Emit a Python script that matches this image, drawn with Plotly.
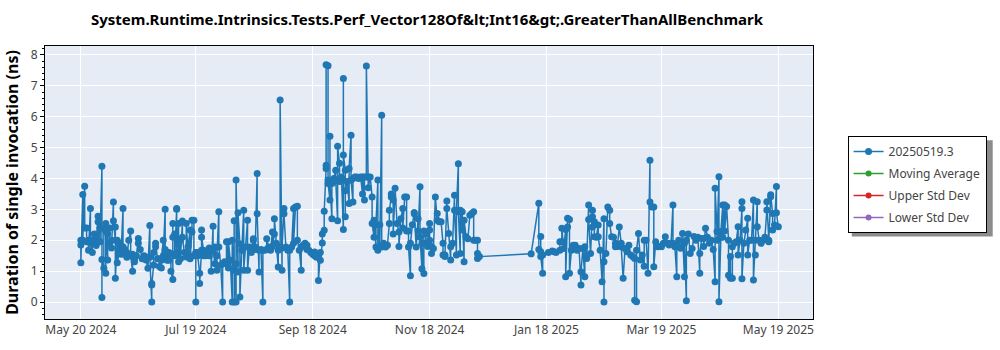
import pandas as pd
import plotly.graph_objects as go

start_date = "2024-05-20"

# day offsets of each benchmark run (relative to start_date) and measured durations (ns)
run_days = [
    0,0,0,1,1,2,2,3,3,4,4,
    5,5,6,6,7,7,8,8,9,9,9,
    10,10,11,11,11,12,12,13,13,13,14,14,
    15,15,16,16,17,17,18,18,18,19,19,
    20,20,21,21,22,22,23,23,24,24,
    25,26,26,27,27,28,28,29,
    30,30,31,32,33,33,34,34,
    35,36,36,37,37,37,38,38,39,39,
    40,41,41,42,42,43,43,44,44,
    45,45,46,46,47,47,48,48,48,49,49,
    50,50,50,51,51,52,52,53,53,54,
    55,55,56,56,57,57,58,58,59,59,
    60,60,60,61,61,62,62,63,63,63,64,64,
    65,66,67,67,68,68,69,69,
    70,70,71,71,72,72,73,74,74,
    75,76,76,77,77,78,79,79,
    80,80,80,81,81,81,82,82,83,83,84,
    85,85,86,87,87,88,89,
    90,90,91,91,92,92,93,93,94,
    95,95,96,97,97,98,99,
    100,100,101,101,102,103,103,104,104,
    105,105,106,106,107,108,109,109,
    110,111,111,112,113,113,114,
    115,115,116,117,118,118,119,
    120,121,122,122,123,124,124,
    125,125,126,126,127,127,128,128,128,129,129,129,
    130,130,130,131,131,132,132,133,133,134,134,
    135,135,136,136,137,137,137,138,138,138,139,
    140,140,141,141,142,142,143,144,
    145,146,147,147,148,148,149,149,
    150,150,151,152,152,153,153,154,154,
    155,155,156,156,157,157,158,159,
    160,161,161,162,162,163,163,164,
    165,166,166,167,168,168,169,
    170,170,171,171,172,172,173,174,174,
    175,176,176,177,177,178,178,179,179,
    180,180,181,182,182,182,183,183,184,
    185,186,186,187,188,189,189,
    190,190,191,191,192,193,193,194,
    195,195,196,196,197,197,198,198,199,199,
    200,200,201,202,203,204,
    205,205,206,207,207,207,208,235,
    239,239,240,240,240,241,241,244,
    246,247,248,250,250,251,251,252,
    253,253,254,254,255,255,256,257,
    258,259,260,261,261,262,
    263,263,264,265,265,266,267,267,267,
    268,268,269,270,270,271,272,
    273,273,273,274,275,276,276,277,
    278,279,279,280,281,282,282,
    283,284,285,286,287,
    288,289,289,290,290,291,292,
    293,294,294,295,296,297,297,
    298,299,299,300,301,302,
    303,304,305,306,307,
    308,309,309,310,311,311,312,
    313,314,315,315,316,316,317,
    318,319,320,321,322,
    323,323,324,325,325,326,327,
    328,329,330,331,331,332,332,
    333,333,334,334,335,335,336,336,337,
    338,338,339,339,340,340,341,342,
    343,343,344,345,345,345,346,347,
    348,348,349,350,351,351,352,352,
    353,353,354,355,356,357,
    358,358,359,359,360,360,361,361,362,363,363,364,
]

durations = [
    1.85,2.0,1.27,3.48,2.0,3.75,2.4,2.4,1.95,2.0,1.68,
    3.03,1.9,1.6,2.0,2.0,2.2,1.83,1.95,2.78,2.6,2.0,
    2.4,1.95,4.4,0.15,1.38,1.09,2.38,2.54,0.93,2.3,1.36,2.2,
    2.4,1.9,2.0,1.75,3.24,2.63,2.0,2.43,0.77,2.0,1.27,
    1.6,1.9,1.79,1.55,3.03,1.79,1.55,1.7,1.6,1.45,
    2.0,2.3,1.5,1.0,1.55,1.4,1.3,1.5,
    2.06,1.9,1.7,1.4,1.46,1.5,1.46,1.36,
    1.09,2.48,1.45,0.0,0.6,0.55,1.2,1.6,1.79,1.9,
    1.4,1.4,1.15,1.1,1.35,2.0,1.5,3.0,1.7,
    1.46,1.35,1.35,1.6,1.57,1.0,0.73,2.54,2.1,2.2,1.5,
    3.0,3.03,1.6,2.54,1.3,2.0,1.4,2.62,2.1,1.6,
    1.46,2.54,1.57,1.8,2.33,1.4,2.27,2.65,2.65,1.5,
    1.57,0.0,1.6,1.6,1.5,0.93,0.6,1.68,2.33,2.1,1.68,1.5,
    1.5,1.6,1.75,1.5,1.68,1.0,2.45,1.68,
    1.24,1.78,1.03,1.5,2.92,1.78,1.2,0.0,1.24,
    1.3,1.24,1.95,1.1,1.95,1.35,0.0,2.0,
    1.03,2.63,0.0,1.24,0.0,3.95,0.97,2.89,1.89,0.16,1.68,
    2.97,1.03,1.78,2.65,1.03,1.78,1.6,
    2.0,2.05,1.78,1.7,4.16,2.86,0.97,1.68,1.7,
    0.0,1.68,1.68,1.7,2.05,1.78,1.68,
    2.27,1.8,2.2,2.7,1.9,1.13,1.68,1.78,6.54,
    1.03,1.75,3.03,2.86,1.78,1.68,0.0,1.68,
    1.78,3.03,1.9,3.08,3.1,2.0,1.68,
    1.03,1.78,1.84,1.9,1.84,1.7,1.68,
    1.6,1.55,1.62,1.5,1.45,1.51,0.7,
    1.6,1.35,1.91,2.2,2.32,2.94,4.32,4.43,7.68,7.65,3.95,3.84,
    3.3,5.37,3.85,2.7,3.84,3.9,4.0,4.27,3.95,2.63,5.04,
    4.49,3.9,4.0,4.05,2.35,7.24,4.76,4.27,2.76,3.6,3.9,
    3.19,4.32,5.4,3.95,3.24,4.0,4.05,4.05,
    4.0,4.05,3.5,4.05,3.3,4.05,4.05,7.64,
    4.05,3.7,4.05,3.4,2.54,2.1,2.65,1.78,2.5,
    3.95,1.68,2.5,1.8,6.05,1.78,1.9,1.78,
    1.84,2.54,2.97,3.4,3.5,3.3,2.2,3.68,
    2.54,2.27,1.8,2.7,3.03,2.4,3.4,
    3.4,2.3,2.3,1.78,0.85,1.9,2.5,2.86,2.9,
    1.78,2.7,2.3,3.73,2.1,1.08,1.9,0.92,2.3,
    2.2,1.9,1.8,2.54,2.33,2.0,1.57,1.8,1.73,
    3.4,2.65,2.87,2.6,2.6,1.9,1.52,
    1.52,1.47,3.27,3.03,2.22,1.36,1.79,1.9,
    3.46,2.97,1.52,2.97,4.48,2.92,1.57,2.97,2.33,2.92,
    1.3,2.65,2.11,2.05,2.81,2.87,
    2.92,2.0,2.0,2.0,1.57,1.41,1.47,1.56,
    3.2,1.7,1.63,2.12,1.47,0.93,1.52,1.6,
    1.65,1.63,1.6,1.68,1.95,1.95,2.39,1.73,
    2.35,0.82,2.43,2.71,2.67,0.93,1.68,1.84,
    1.84,1.68,1.73,0.55,0.98,1.73,
    0.82,1.79,1.41,3.14,2.67,1.57,2.97,2.76,2.43,
    2.6,2.11,2.1,2.49,2.11,1.68,0.66,
    2.7,0.0,1.3,1.57,3.08,2.97,2.54,2.11,
    2.1,1.9,1.79,1.8,2.43,1.9,1.79,
    0.77,1.73,1.63,1.84,1.52,
    1.47,1.41,0.06,0.01,1.68,2.22,1.36,
    1.52,1.16,2.0,2.0,0.93,4.59,3.24,
    3.08,3.08,1.14,1.95,1.79,1.8,
    1.79,1.9,2.11,1.9,1.85,
    1.9,3.14,1.9,1.79,0.82,1.8,2.0,
    1.74,2.22,0.82,1.9,0.04,2.0,2.2,
    1.57,1.73,2.12,2.0,2.1,
    0.93,1.57,2.06,2.06,1.8,2.39,2.1,
    1.9,2.0,1.7,0.66,3.68,2.28,2.0,
    4.06,0.01,2.1,2.28,3.14,2.1,3.14,2.3,3.09,
    2.0,0.87,1.47,0.77,0.77,1.79,1.9,1.95,
    2.44,1.52,2.0,3.03,3.25,0.75,1.9,2.33,
    2.71,1.52,2.0,2.0,3.3,0.71,2.0,1.52,
    3.25,2.44,2.0,1.9,2.0,2.1,
    2.98,3.25,2.0,1.95,3.41,3.47,2.87,2.33,2.49,3.74,2.89,2.44,
]

assert len(run_days) == len(durations), (len(run_days), len(durations))

tick_dates = ["2024-05-20", "2024-07-19", "2024-09-18", "2024-11-18",
              "2025-01-18", "2025-03-19", "2025-05-19"]
tick_labels = ["May 20 2024", "Jul 19 2024", "Sep 18 2024", "Nov 18 2024",
               "Jan 18 2025", "Mar 19 2025", "May 19 2025"]

series_names = ["20250519.3", "Moving Average", "Upper Std Dev", "Lower Std Dev"]
series_colors = ["#1f77b4", "#2ca02c", "#d62728", "#9467bd"]

title_text = "System.Runtime.Intrinsics.Tests.Perf_Vector128Of&amp;lt;Int16&amp;gt;.GreaterThanAllBenchmark"

run_dates = pd.Timestamp(start_date) + pd.to_timedelta(run_days, unit="D")

FONT = "Noto Sans"

fig = go.Figure()
fig.add_trace(go.Scatter(
    x=run_dates, y=durations, mode="lines+markers", name=series_names[0],
    line=dict(color=series_colors[0], width=1.5),
    marker=dict(color=series_colors[0], size=7),
    legendgroup="a",
))
for name, color, grp in zip(series_names[1:], series_colors[1:], ["b", "c", "d"]):
    fig.add_trace(go.Scatter(
        x=[None], y=[None], mode="lines+markers", name=name,
        line=dict(color=color, width=1.5), marker=dict(color=color, size=6),
        legendgroup=grp,
    ))

# legend drop shadow
fig.add_shape(type="rect", xref="paper", yref="paper",
              x0=1.0505, x1=1.234, y0=0.302, y1=0.655,
              fillcolor="#8c8c8c", line=dict(width=0), layer="above")

fig.update_layout(
    width=1000, height=350,
    margin=dict(l=41, r=187, t=46, b=31),
    paper_bgcolor="white",
    plot_bgcolor="#E5ECF6",
    font=dict(family=FONT, size=12, color="#444"),
    title=dict(
        text=title_text,
        x=0.427, xanchor="center", y=0.945, yanchor="middle",
        font=dict(family=FONT, size=15, color="black", weight="bold"),
    ),
    legend=dict(
        x=1.045, xanchor="left", y=0.670, yanchor="top",
        bordercolor="black", borderwidth=1, bgcolor="white",
        font=dict(family=FONT, size=12, color="#444"),
        tracegroupgap=3,
    ),
    showlegend=True,
)

fig.update_xaxes(
    type="date",
    range=["2024-05-01 07:00", "2025-06-06 02:00"],
    tickvals=tick_dates, ticktext=tick_labels,
    showgrid=True, gridcolor="white", gridwidth=1,
    showline=True, linecolor="black", linewidth=1, mirror=True,
    zeroline=False,
    tickfont=dict(family=FONT, size=12, color="#444"),
)
fig.update_yaxes(
    range=[-0.55, 8.29],
    dtick=1, tick0=0,
    showgrid=True, gridcolor="white", gridwidth=1,
    showline=True, linecolor="black", linewidth=1, mirror=True,
    ticks="outside", ticklen=4, tickcolor="black",
    minor=dict(ticks="outside", ticklen=2, tickcolor="black", dtick=0.2, showgrid=False),
    zeroline=False,
    title=dict(text="Duration of single invocation (ns)",
               font=dict(family=FONT, size=16, color="black", weight="bold"), standoff=8),
    tickfont=dict(family=FONT, size=12, color="#444"),
)

fig.write_html("out.html")
